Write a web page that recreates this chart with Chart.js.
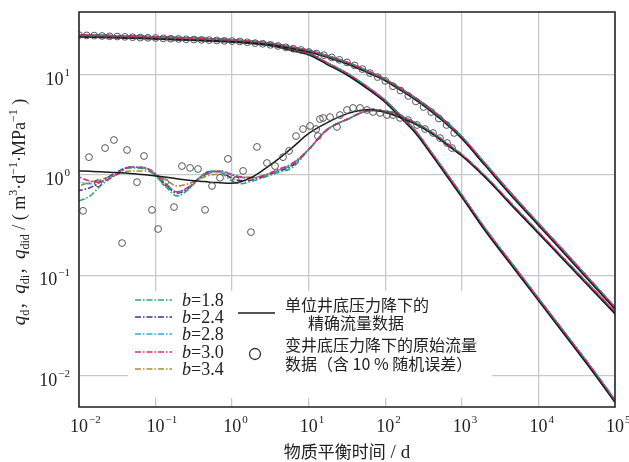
<!DOCTYPE html>
<html>
<head>
<meta charset="utf-8">
<script src="https://cdn.jsdelivr.net/npm/chart.js@4/dist/chart.umd.min.js"></script>
<style>
  html, body { margin: 0; padding: 0; background: #fff; }
</style>
</head>
<body>
<canvas id="rateChart" width="629" height="462"></canvas>
<script>
// material balance time grid for the smooth curves (d)
const tGrid = [0.01, 0.014, 0.019, 0.03, 0.046, 0.073, 0.1, 0.14, 0.19, 0.27, 0.38, 0.51, 0.7, 0.94, 1.3, 1.9, 2.7, 3.8, 6.2,
               10, 17, 32, 64, 100, 150, 250, 400, 700, 1000, 2000, 5000, 1e4, 2e4, 5e4, 1e5];

// exact curves (unit bottom-hole pressure drop)
const qdExact = [23.8, 23.7, 23.6, 23.4, 23.2, 22.9, 22.7, 22.5, 22.3, 22.1, 21.9, 21.7, 21.5, 21.2, 20.9, 20.4, 19.8, 19.0, 17.3,
                 15.8, 12.8, 9.9, 6.9, 5.3, 3.9, 2.6, 1.6, 0.88, 0.6, 0.28, 0.112, 0.056, 0.028, 0.0112, 0.0054];
const qdiExact = [23.9, 23.8, 23.7, 23.5, 23.3, 23.1, 22.9, 22.7, 22.5, 22.3, 22.1, 21.9, 21.7, 21.5, 21.2, 20.8, 20.2, 19.5, 18.2,
                  16.9, 15.0, 12.8, 10.2, 8.7, 7.2, 5.6, 4.3, 3.0, 2.3, 1.25, 0.56, 0.315, 0.177, 0.082, 0.046];
const qdidExact = [1.10, 1.09, 1.08, 1.06, 1.04, 1.01, 0.98, 0.95, 0.92, 0.89, 0.87, 0.85, 0.84, 0.83, 0.86, 0.97, 1.16, 1.4, 1.9,
                   2.6, 3.3, 4.1, 4.5, 4.2, 3.8, 3.2, 2.6, 1.9, 1.55, 0.95, 0.455, 0.261, 0.15, 0.072, 0.0413];

// fitted curves for the different b values
const fitQd = [24.9, 24.8, 24.7, 24.5, 24.3, 24.0, 23.8, 23.6, 23.4, 23.2, 23.0, 22.8, 22.5, 22.2, 21.8, 21.2, 20.5, 19.6, 17.9,
               16.3, 13.3, 10.3, 7.2, 5.55, 4.1, 2.73, 1.68, 0.93, 0.63, 0.295, 0.118, 0.059, 0.0295, 0.0118, 0.0057];
const fitQdi = [24.9, 24.8, 24.7, 24.5, 24.3, 24.1, 23.9, 23.7, 23.5, 23.3, 23.1, 22.9, 22.7, 22.4, 22.0, 21.6, 21.0, 20.2, 18.8,
                17.5, 15.6, 13.3, 10.6, 9.0, 7.5, 5.85, 4.5, 3.14, 2.41, 1.31, 0.59, 0.33, 0.186, 0.086, 0.048];
const fitQdidTail = [1.8, 2.8, 3.6, 4.4, 4.35, 3.95, 3.3, 2.68, 1.96, 1.6, 0.98, 0.47, 0.27, 0.155, 0.075, 0.043];
const fitQdid18 = [0.55, 0.62, 0.78, 1.0, 1.18, 1.15, 0.98, 0.75, 0.62, 0.72, 0.95, 1.1, 1.07, 0.9, 0.82, 0.88, 0.96, 1.05, 1.2];
const fitQdid24 = [0.7, 0.75, 0.85, 1.05, 1.2, 1.18, 1.0, 0.78, 0.66, 0.74, 0.95, 1.08, 1.08, 0.95, 0.88, 0.9, 0.98, 1.08, 1.25];
const fitQdid28 = [0.85, 0.82, 0.85, 1.02, 1.2, 1.18, 1.02, 0.8, 0.68, 0.76, 0.94, 1.05, 1.1, 1.02, 0.95, 0.94, 1.0, 1.1, 1.3];
const fitQdid30 = [0.96, 0.87, 0.85, 1.0, 1.2, 1.18, 1.03, 0.8, 0.68, 0.76, 0.94, 1.05, 1.1, 1.03, 0.96, 0.94, 1.0, 1.12, 1.32];
const fitQdid34 = [0.78, 0.85, 0.9, 1.0, 1.1, 1.1, 1.02, 0.88, 0.78, 0.82, 0.92, 1.0, 1.02, 0.98, 0.95, 0.95, 1.0, 1.1, 1.28];

// raw data (variable pressure drop, 10 % random error)
const circTdi = [0.01, 0.0126, 0.0158, 0.02, 0.0251, 0.0316, 0.0398, 0.0501, 0.0631, 0.0794, 0.1, 0.126, 0.158, 0.2, 0.251,
                 0.316, 0.398, 0.501, 0.631, 0.794, 1, 1.26, 1.58, 2, 2.51, 3.16, 3.98, 5.01, 6.31, 7.94, 10, 12.6, 15.8,
                 20, 25.1, 31.6, 39.8, 50.1, 63.1, 79.4, 100, 126, 158, 200, 251, 316, 398, 501, 631, 794];
const circQdi = [24.9, 24.7, 24.6, 24.4, 24.2, 24.1, 23.9, 23.7, 23.5, 23.4, 23.3, 23.1, 22.9, 22.8, 22.6, 22.5, 22.3, 22.2,
                 22.0, 21.8, 21.7, 21.5, 21.1, 20.7, 20.4, 19.9, 19.4, 18.8, 18.2, 17.7, 16.9, 16.3, 15.7, 14.9, 14.1, 13.3,
                 12.4, 11.4, 10.4, 9.5, 8.7, 7.7, 6.97, 6.15, 5.43, 4.77, 4.25, 3.67, 3.16, 2.63];
const circTdid = [0.0113, 0.0135, 0.0177, 0.0219, 0.0286, 0.0365, 0.0424, 0.0572, 0.0706, 0.0898, 0.108, 0.133, 0.174, 0.221,
                  0.282, 0.358, 0.443, 0.546, 0.694, 0.88, 1.12, 1.39, 1.76, 2.11, 2.85, 3.63, 4.62, 5.53, 6.83, 8.42, 10.4,
                  12.5, 13.2, 14.0, 15.4, 19.0, 23.4, 25.6, 31.6, 37.9, 46.8, 57.7, 69.2, 85.4, 105, 126, 156, 198, 260, 330,
                  420, 518, 640, 743];
const circQdid = [0.44, 1.51, 0.83, 1.86, 2.24, 0.21, 1.78, 0.85, 1.55, 0.45, 0.29, 0.85, 0.48, 1.23, 1.18, 1.15, 0.45, 0.78,
                  0.94, 1.45, 0.89, 1.10, 0.27, 1.91, 1.32, 1.23, 1.51, 1.74, 2.45, 2.88, 3.09, 2.88, 2.45, 3.62, 3.71, 3.79,
                  3.02, 3.97, 4.46, 4.67, 4.67, 4.46, 4.26, 4.16, 3.97, 3.97, 3.71, 3.54, 3.16, 2.88, 2.63, 2.34, 2.09, 1.86];

// axes
const xTickExp = [-2, -1, 0, 1, 2, 3, 4, 5];
const yTickExp = [-2, -1, 0, 1];
const bLabels = ["1.8", "2.4", "2.8", "3.0", "3.4"];

const SERIF = '"Liberation Serif", "DejaVu Serif", serif';
const CJK = '"Noto Sans CJK SC", sans-serif';
const TEXT = "#222";
const bColors = ["#1fae6a", "#4a2c8c", "#2aa9e0", "#e8237a", "#a88a3a"];
const bOrder = [3, 5, 4, 2, 6];
const DASH = [6, 2, 1.5, 2];

function pts(xs, ys) {
    return xs.map((x, i) => ({ x: x, y: ys[i] }));
}

const fitQdidEarly = [fitQdid18, fitQdid24, fitQdid28, fitQdid30, fitQdid34];
const datasets = [];

datasets.push({ data: pts(circTdi, circQdi), showLine: false, pointRadius: 3.4, pointBorderColor: "#555",
    pointBackgroundColor: "rgba(0,0,0,0)", pointBorderWidth: 1, order: 0 });
datasets.push({ data: pts(circTdid, circQdid), showLine: false, pointRadius: 3.4, pointBorderColor: "#555",
    pointBackgroundColor: "rgba(0,0,0,0)", pointBorderWidth: 1, order: 0 });

// exact curves drawn just under the circles
[qdExact, qdiExact, qdidExact].forEach(arr => {
    datasets.push({ data: pts(tGrid, arr), borderColor: "#1a1a1a", borderWidth: 1.5, pointRadius: 0,
        cubicInterpolationMode: "monotone", order: 1 });
});

bLabels.forEach((b, i) => {
    const style = { borderColor: bColors[i], borderWidth: 1.6, borderDash: DASH, borderDashOffset: i * 2.3,
        pointRadius: 0, cubicInterpolationMode: "monotone", order: bOrder[i] };
    datasets.push(Object.assign({ data: pts(tGrid, fitQd) }, style));
    datasets.push(Object.assign({ data: pts(tGrid, fitQdi) }, style));
    datasets.push(Object.assign({ data: pts(tGrid, fitQdidEarly[i].concat(fitQdidTail)) }, style));
});

function drawPow(ctx, exp, x, y, mode) {
    // "10" with a raised exponent
    ctx.font = "18px " + SERIF;
    const bw = ctx.measureText("10").width;
    ctx.font = "11px " + SERIF;
    const sup = String(exp).replace("-", "\u2212");
    const sw = ctx.measureText(sup).width;
    let left = mode === "x" ? x - bw / 2 : x - bw - sw - 1;
    ctx.textAlign = "left";
    ctx.textBaseline = "alphabetic";
    ctx.font = "18px " + SERIF;
    ctx.fillText("10", left, y);
    ctx.font = "11px " + SERIF;
    ctx.fillText(sup, left + bw + 1, y - 9);
}

function drawRuns(ctx, runs, x, y, align) {
    let total = 0;
    runs.forEach(r => { ctx.font = r.f; r.w = ctx.measureText(r.t).width; total += r.w; });
    let cx = align === "center" ? x - total / 2 : x;
    ctx.textAlign = "left";
    ctx.textBaseline = "alphabetic";
    runs.forEach(r => { ctx.font = r.f; ctx.fillText(r.t, cx, y + (r.dy || 0)); cx += r.w; });
}

const decor = {
    id: "decor",
    beforeDatasetsDraw(chart) {
        const ctx = chart.ctx;
        ctx.save();
        ctx.fillStyle = "#fff";
        ctx.fillRect(128, 291, 364, 107);
        ctx.restore();
    },
    afterDraw(chart) {
        const ctx = chart.ctx;
        const a = chart.chartArea;
        const xs = chart.scales.x, ys = chart.scales.y;
        ctx.save();
        ctx.strokeStyle = "#2a2a2a";
        ctx.lineWidth = 1.6;
        ctx.strokeRect(a.left, a.top, a.right - a.left, a.bottom - a.top);

        ctx.fillStyle = TEXT;
        xTickExp.forEach(e => drawPow(ctx, e, xs.getPixelForValue(Math.pow(10, e)), a.bottom + 25, "x"));
        yTickExp.forEach(e => drawPow(ctx, e, a.left - 9, ys.getPixelForValue(Math.pow(10, e)) + 10, "y"));

        // x title
        drawRuns(ctx, [{ t: "物质平衡时间", f: "17px " + CJK, dy: 0 }, { t: " / d", f: "19px " + SERIF, dy: 0 }],
            347, 458, "center");

        // y title
        ctx.save();
        ctx.translate(25, 212);
        ctx.rotate(-Math.PI / 2);
        const qf = "italic 19px " + SERIF, sf = "12px " + SERIF, nf = "18px " + SERIF, cf = "16px " + CJK;
        drawRuns(ctx, [
            { t: "q", f: qf }, { t: "d", f: sf, dy: 4 }, { t: "，", f: cf },
            { t: "q", f: qf }, { t: "di", f: sf, dy: 4 }, { t: "，", f: cf },
            { t: "q", f: qf }, { t: "did", f: sf, dy: 4 }, { t: " / ( m", f: nf },
            { t: "3", f: sf, dy: -8 }, { t: "·d", f: nf }, { t: "\u22121", f: sf, dy: -8 },
            { t: "·MPa", f: nf }, { t: "\u22121", f: sf, dy: -8 }, { t: " )", f: nf }
        ], 0, 0, "center");
        ctx.restore();

        // legend
        const rows = [300, 317, 334, 352, 369];
        bLabels.forEach((b, i) => {
            ctx.strokeStyle = bColors[i];
            ctx.lineWidth = 1.6;
            ctx.setLineDash(DASH);
            ctx.beginPath();
            ctx.moveTo(135, rows[i]);
            ctx.lineTo(172, rows[i]);
            ctx.stroke();
            ctx.setLineDash([]);
            ctx.fillStyle = TEXT;
            drawRuns(ctx, [{ t: "b", f: "italic 18px " + SERIF }, { t: "=" + b, f: "18px " + SERIF }], 182, rows[i] + 6, "left");
        });
        ctx.strokeStyle = "#1a1a1a";
        ctx.lineWidth = 1.5;
        ctx.beginPath();
        ctx.moveTo(238, 313);
        ctx.lineTo(275, 313);
        ctx.stroke();
        ctx.strokeStyle = "#333";
        ctx.lineWidth = 1.3;
        ctx.beginPath();
        ctx.arc(255, 354, 5.5, 0, Math.PI * 2);
        ctx.stroke();

        ctx.fillStyle = TEXT;
        ctx.font = "16px " + CJK;
        ctx.textAlign = "left";
        ctx.textBaseline = "middle";
        ctx.fillText("单位井底压力降下的", 285, 305);
        ctx.fillText("精确流量数据", 308, 323);
        ctx.fillText("变井底压力降下的原始流量", 285, 345);
        ctx.fillText("数据（含 10 % 随机误差）", 285, 364);
        ctx.restore();
    }
};

new Chart(document.getElementById("rateChart").getContext("2d"), {
    type: "line",
    data: { datasets: datasets },
    options: {
        responsive: false,
        animation: false,
        layout: { padding: { top: 12, right: 14, left: 0, bottom: 0 } },
        plugins: { legend: { display: false }, tooltip: { enabled: false } },
        scales: {
            x: {
                type: "logarithmic", min: 0.01, max: 1e5,
                afterFit: s => { s.height = 55; },
                afterBuildTicks: s => { s.ticks = xTickExp.map(e => ({ value: Math.pow(10, e) })); },
                ticks: { display: false },
                grid: { color: "#c8c8c8", lineWidth: 1.3, drawTicks: false },
                border: { display: false }
            },
            y: {
                type: "logarithmic", min: 0.00487, max: 42.3,
                afterFit: s => { s.width = 79; },
                afterBuildTicks: s => { s.ticks = yTickExp.map(e => ({ value: Math.pow(10, e) })); },
                ticks: { display: false },
                grid: { color: "#c8c8c8", lineWidth: 1.3, drawTicks: false },
                border: { display: false }
            }
        }
    },
    plugins: [decor]
});
</script>
</body>
</html>
